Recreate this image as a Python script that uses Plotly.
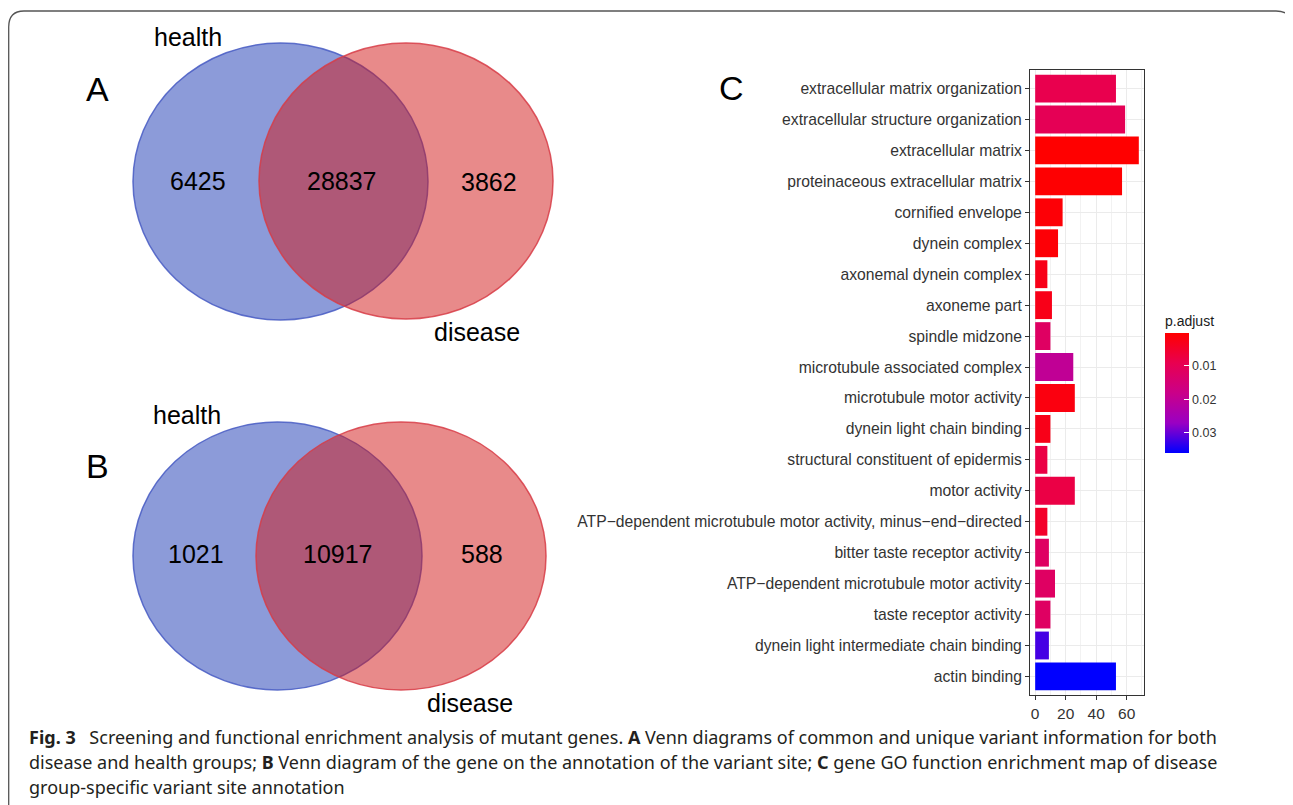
import plotly.graph_objects as go

# ---------------- data ----------------
venn_a_labels = ["health", "disease"]
venn_a_counts = [6425, 28837, 3862]      # health only, both, disease only
venn_b_labels = ["health", "disease"]
venn_b_counts = [1021, 10917, 588]

go_terms = [
    "extracellular matrix organization",
    "extracellular structure organization",
    "extracellular matrix",
    "proteinaceous extracellular matrix",
    "cornified envelope",
    "dynein complex",
    "axonemal dynein complex",
    "axoneme part",
    "spindle midzone",
    "microtubule associated complex",
    "microtubule motor activity",
    "dynein light chain binding",
    "structural constituent of epidermis",
    "motor activity",
    "ATP\u2212dependent microtubule motor activity, minus\u2212end\u2212directed",
    "bitter taste receptor activity",
    "ATP\u2212dependent microtubule motor activity",
    "taste receptor activity",
    "dynein light intermediate chain binding",
    "actin binding",
]
gene_count = [53, 59, 68, 57, 18, 15, 8, 11, 10, 25, 26, 10, 8, 26, 8, 9, 13, 10, 9, 53]
p_adjust = [0.009, 0.010, 0.0003, 0.0005, 0.001, 0.001, 0.003, 0.003, 0.012, 0.020,
            0.002, 0.003, 0.008, 0.008, 0.005, 0.012, 0.012, 0.012, 0.032, 0.036]
cbar_ticks = [0.01, 0.02, 0.03]
x_ticks = [0, 20, 40, 60]

W, H = 1293, 805
OFF = 8  # page body margin: screen px -> figure px
FONT = "Liberation Sans, Arial, sans-serif"
CAP_FONT = "Noto Sans, sans-serif"

def px(x):
    return (x - OFF) / W

def py(y):
    return 1 - (y - OFF) / H

fig = go.Figure()

# colour: ggplot red->blue (Lab) gradient, red = small p.adjust at top of bar
neg_p = [-v for v in p_adjust]
colorscale = [[0.0, "#0000FF"], [0.25, "#9A00C3"], [0.5, "#CA0089"],
              [0.75, "#E80050"], [1.0, "#FF0000"]]

fig.add_trace(go.Bar(
    x=gene_count, y=go_terms, orientation="h", width=0.9,
    marker=dict(
        color=neg_p, colorscale=colorscale,
        cmin=-max(p_adjust), cmax=-min(p_adjust),
        line=dict(width=0),
        colorbar=dict(
            title=dict(text="p.adjust", side="top",
                       font=dict(family=FONT, size=14, color="#1a1a1a")),
            tickvals=[-t for t in cbar_ticks],
            ticktext=[f"{t:.2f}" for t in cbar_ticks],
            ticks="inside", ticklen=5, tickcolor="white",
            tickfont=dict(family=FONT, size=12.5, color="#333333"),
            thickness=24, thicknessmode="pixels",
            len=141, lenmode="pixels",
            x=px(1165), xanchor="left", y=py(453), yanchor="bottom",
            xpad=0, ypad=0, outlinewidth=0,
        ),
    ),
    hoverinfo="x+y",
    showlegend=False,
))

n = len(go_terms)
fig.update_layout(
    width=W, height=H, margin=dict(l=0, r=0, t=0, b=0),
    paper_bgcolor="white", plot_bgcolor="white",
    xaxis=dict(
        domain=[px(1030), px(1144)], range=[-3.4, 71.4],
        tickvals=x_ticks, ticks="outside", ticklen=4, tickcolor="#333333",
        tickfont=dict(family=FONT, size=15.5, color="#333333"),
        showgrid=True, gridcolor="#EBEBEB", gridwidth=1,
        minor=dict(dtick=10, tick0=0, showgrid=True, gridcolor="#F2F2F2", gridwidth=0.6),
        showline=True, mirror=True, linecolor="#333333", linewidth=1,
        zeroline=False,
    ),
    yaxis=dict(
        domain=[py(695), py(70)], type="category",
        categoryorder="array", categoryarray=go_terms,
        range=[n - 1 + 0.6, -0.6],
        ticks="outside", ticklen=4, tickcolor="#333333",
        tickfont=dict(family=FONT, size=15.7, color="#333333"),
        showgrid=True, gridcolor="#EBEBEB",
        showline=True, mirror=True, linecolor="#333333", linewidth=1,
        zeroline=False,
    ),
)

shapes = []
# outer rounded border (open at bottom)
def P(x, y):
    return f"{px(x):.5f},{py(y):.5f}"
border = (f"M {P(8.7, 815)} L {P(8.7, 27)} Q {P(8.7, 11)} {P(24, 11)} "
          f"L {P(1276, 11)} Q {P(1292, 11)} {P(1292, 27)} L {P(1292, 815)}")
shapes.append(dict(type="path", xref="paper", yref="paper", path=border,
                   line=dict(color="#555555", width=1.3)))

BLUE_FILL, BLUE_LINE = "rgba(25,55,179,0.5)", "rgba(70,90,195,0.85)"
RED_FILL, RED_LINE = "rgba(209,21,21,0.5)", "rgba(215,60,70,0.85)"

venns = [
    # (blue box, red box) in screen px: x0, y0, x1, y1
    ((133, 43, 428, 320), (259, 43, 553, 319)),
    ((133, 422, 422, 690), (256, 422, 546, 690)),
]
for (b, r) in venns:
    shapes.append(dict(type="circle", xref="paper", yref="paper",
                       x0=px(b[0]), y0=py(b[1]), x1=px(b[2]), y1=py(b[3]),
                       fillcolor=BLUE_FILL, line=dict(color=BLUE_LINE, width=1.5)))
    shapes.append(dict(type="circle", xref="paper", yref="paper",
                       x0=px(r[0]), y0=py(r[1]), x1=px(r[2]), y1=py(r[3]),
                       fillcolor=RED_FILL, line=dict(color=RED_LINE, width=1.5)))
fig.update_layout(shapes=shapes)

ann = []
def txt(x, y, s, size, anchor="center", fam=FONT, color="black"):
    ann.append(dict(xref="paper", yref="paper", x=px(x), y=py(y), text=s, showarrow=False,
                    xanchor=anchor, yanchor="middle",
                    font=dict(family=fam, size=size, color=color)))

# panel letters
txt(97, 89, "A", 34)
txt(97, 466, "B", 34)
txt(731, 88, "C", 34)

# Venn A
txt(188, 37, venn_a_labels[0], 25)
txt(477, 332, venn_a_labels[1], 25)
txt(198, 181, f"{venn_a_counts[0]}", 25)
txt(342, 181, f"{venn_a_counts[1]}", 25)
txt(489, 182, f"{venn_a_counts[2]}", 25)
# Venn B
txt(187, 415, venn_b_labels[0], 25)
txt(470, 703, venn_b_labels[1], 25)
txt(196, 554, f"{venn_b_counts[0]}", 25)
txt(338, 554, f"{venn_b_counts[1]}", 25)
txt(482, 554, f"{venn_b_counts[2]}", 25)

# caption
cap = [
    "<b>Fig. 3</b>\u2002 Screening and functional enrichment analysis of mutant genes. <b>A</b> Venn diagrams of common and unique variant information for both",
    "disease and health groups; <b>B</b> Venn diagram of the gene on the annotation of the variant site; <b>C</b> gene GO function enrichment map of disease",
    "group-specific variant site annotation",
]
for i, line in enumerate(cap):
    txt(27, 737 + 25 * i, line, 18, anchor="left", fam=CAP_FONT, color="#231f20")

fig.update_layout(annotations=ann)
fig.write_html("out.html")
